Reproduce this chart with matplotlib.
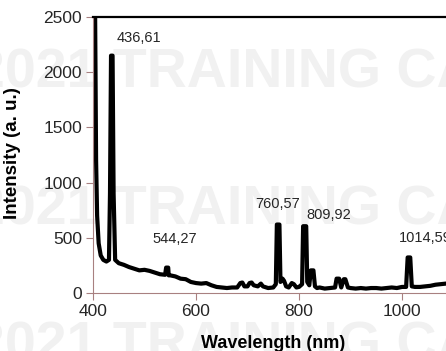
import matplotlib
matplotlib.use("Agg")
import matplotlib.pyplot as plt

plt.rcParams['font.family'] = ['Liberation Sans', 'DejaVu Sans']

# spectrum
wavelength = [402, 404, 406, 408, 411, 415, 420, 426, 431, 433, 435, 438, 440, 443,
              450, 460, 470, 480, 490, 500, 510, 520, 530, 540, 542, 546, 547, 550,
              560, 570, 580, 590, 600, 610, 620, 630, 640, 650, 660, 670, 680, 686,
              690, 694, 700, 704, 708, 712, 720, 726, 730, 740, 750, 755, 757, 762,
              764, 768, 771, 775, 780, 786, 790, 795, 800, 806, 808, 814, 816, 820,
              823, 828, 831, 835, 840, 850, 860, 870, 873, 878, 882, 887, 890, 895,
              900, 910, 920, 930, 940, 950, 960, 970, 980, 990, 1000, 1008, 1011,
              1016, 1019, 1025, 1035, 1045, 1055, 1065, 1075, 1085]
intensity = [4200, 2600, 1200, 700, 450, 340, 300, 285, 300, 900, 2150, 2150, 900, 300,
             270, 255, 235, 220, 205, 210, 200, 185, 170, 165, 230, 230, 160, 160,
             150, 130, 125, 100, 90, 85, 90, 70, 55, 50, 45, 50, 50, 90,
             95, 60, 60, 90, 95, 70, 60, 85, 60, 45, 50, 80, 620, 620,
             100, 130, 110, 60, 50, 90, 80, 50, 55, 80, 605, 605, 100, 70,
             205, 205, 60, 45, 50, 40, 45, 50, 130, 130, 50, 125, 125, 50,
             45, 40, 45, 40, 45, 45, 40, 45, 50, 45, 55, 55, 322,
             322, 60, 55, 55, 60, 65, 75, 80, 85]

peak_labels = ['436,61', '544,27', '760,57', '809,92', '1014,59']
label_x = [446, 516, 716, 815, 994]
label_y = [2310, 489, 806, 706, 498]

x_ticks = [400, 600, 800, 1000, 1200]
y_ticks = [0, 500, 1000, 1500, 2000, 2500]

axis_col = '#a88080'
text_col = '#262626'

fig = plt.figure(figsize=(4.46, 3.51), dpi=100)

# watermark rows behind the plot
for yy in [0.79, 0.40, 0.012]:
    fig.text(-0.058, yy, '2021 TRAINING CAMP', fontsize=40, fontweight='bold',
             color='#f1f1f1', zorder=-5, ha='left', va='center')

ax = fig.add_axes([93 / 446, 58 / 351, 412 / 446, 276 / 351])
ax.set_facecolor('none')
ax.plot(wavelength, intensity, color='black', lw=3.0, solid_joinstyle='round')

for lab, lx, ly in zip(peak_labels, label_x, label_y):
    ax.text(lx, ly, lab, fontsize=10.5, color=text_col, ha='left', va='center')

ax.set_xlim(400, 1200)
ax.set_ylim(0, 2500)
ax.set_xticks(x_ticks)
ax.set_yticks(y_ticks)
ax.tick_params(axis='both', direction='out', length=5, color=axis_col,
               labelsize=12.5, labelcolor=text_col, pad=3)

ax.spines['right'].set_visible(False)
ax.spines['left'].set_color(axis_col)
ax.spines['bottom'].set_color(axis_col)
ax.spines['top'].set_color('black')
ax.spines['top'].set_linewidth(1.6)

ax.set_xlabel('Wavelength (nm)', fontsize=13, fontweight='bold', color='black')
ax.xaxis.set_label_coords((273 - 93) / 412, -42 / 276)
ax.set_ylabel('Intensity (a. u.)', fontsize=13.5, fontweight='bold', color='black')
ax.yaxis.set_label_coords(-(93 - 21) / 412, (293 - 153) / 276)

fig.savefig('out.png', dpi=100)
